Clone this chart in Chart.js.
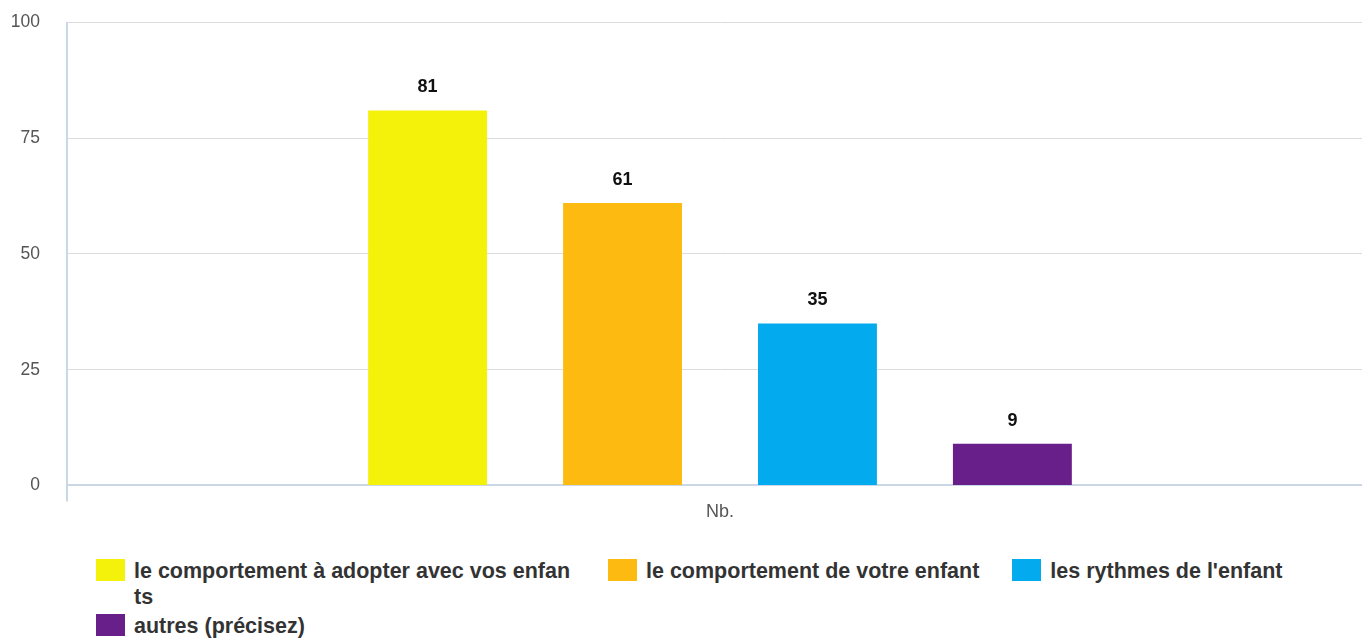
<!DOCTYPE html>
<html><head><meta charset="utf-8">
<script src="https://cdn.jsdelivr.net/npm/chart.js@4/dist/chart.umd.min.js"></script>
<style>
html,body{margin:0;padding:0;background:#fff;overflow:hidden;width:1362px;height:638px;}
#wrap{position:absolute;left:0;top:-15px;width:1373px;height:538px;}
#legend{position:absolute;left:96px;top:557.5px;width:1260px;display:flex;flex-wrap:wrap;column-gap:33px;row-gap:3px;font-family:"Liberation Sans",Arial,sans-serif;font-weight:bold;font-size:21.5px;color:#333;line-height:26px;}
.item{display:flex;align-items:flex-start;}
.box{width:29px;height:22px;margin-top:1.5px;margin-right:9px;flex:none;}
.txt{max-width:441px;word-break:break-all;}
</style></head>
<body>
<div id="wrap"><canvas id="c" width="1373" height="538"></canvas></div>
<div id="legend"></div>
<script>
const categories = ["Nb."];
const seriesLabels = ["le comportement à adopter avec vos enfants","le comportement de votre enfant","les rythmes de l'enfant","autres (précisez)"];
const seriesValues = [81, 61, 35, 9];
const seriesColors = ["#F4F10B","#FDBB12","#04AAEE","#681F8A"];
const yTicks = [0, 25, 50, 75, 100];

const datasets = seriesLabels.map((l,i)=>({label:l,data:[seriesValues[i]],backgroundColor:seriesColors[i],barPercentage:0.61,categoryPercentage:0.597}));

const labelPlugin = {
  id:'vals',
  afterDatasetsDraw(chart){
    const ctx = chart.ctx;
    ctx.save();
    ctx.font = 'bold 18px "Liberation Sans", Arial, sans-serif';
    ctx.fillStyle = '#111';
    ctx.textAlign = 'center';
    ctx.textBaseline = 'middle';
    chart.data.datasets.forEach((ds,i)=>{
      const meta = chart.getDatasetMeta(i);
      meta.data.forEach((bar,j)=>{
        ctx.fillText(String(ds.data[j]), bar.x, bar.y - 23);
      });
    });
    ctx.restore();
  }
};

new Chart(document.getElementById('c'),{
  type:'bar',
  data:{labels:categories,datasets},
  options:{
    responsive:false,animation:false,
    layout:{padding:{top:0,left:0,right:0,bottom:0}},
    plugins:{legend:{display:false},tooltip:{enabled:false}},
    scales:{
      x:{
        grid:{drawOnChartArea:false,drawTicks:true,tickLength:16,color:'#c9d7e6',lineWidth:2},
        border:{display:true,color:'#c9d7e6',width:2},
        ticks:{color:'#555',font:{family:'"Liberation Sans", Arial, sans-serif',size:18},padding:0}
      },
      y:{
        min:0,max:100,
        afterBuildTicks(axis){axis.ticks = yTicks.map(v=>({value:v}));},
        afterFit(axis){axis.width = 67;},
        grid:{color:'#dcdcdc',drawTicks:false,lineWidth:1},
        border:{display:true,color:'#c9d7e6',width:2},
        ticks:{color:'#555',font:{family:'"Liberation Sans", Arial, sans-serif',size:17.5},padding:27}
      }
    }
  },
  plugins:[labelPlugin]
});

const leg = document.getElementById('legend');
seriesLabels.forEach((l,i)=>{
  const it = document.createElement('div'); it.className='item';
  const b = document.createElement('div'); b.className='box'; b.style.background=seriesColors[i];
  const t = document.createElement('div'); t.className='txt'; t.textContent=l;
  it.appendChild(b); it.appendChild(t); leg.appendChild(it);
});
</script>
</body></html>
